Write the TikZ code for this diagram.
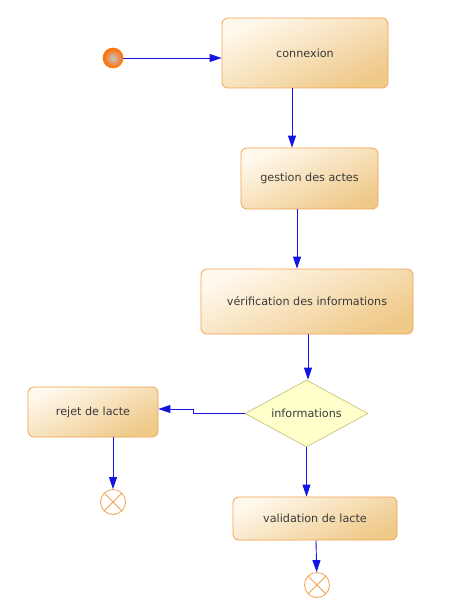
\documentclass[tikz,border=0pt]{standalone}
\usepackage{fontspec}
\setmainfont{DejaVu Sans}
\usepackage{xcolor}
\usetikzlibrary{arrows.meta,positioning,calc,shapes.geometric}

\definecolor{boxline}{HTML}{F2A24E}
\definecolor{boxlight}{HTML}{FFF8EC}
\definecolor{boxdark}{HTML}{EFC988}
\definecolor{decline}{HTML}{C9C27A}
\definecolor{decfill}{HTML}{FFFFCC}
\definecolor{flow}{HTML}{1414E6}
\definecolor{txt}{HTML}{3A3A3A}

\tikzset{
  activity/.style={draw=boxline, line width=0.8pt, rounded corners=6pt,
    top color=boxlight, bottom color=boxdark, shading angle=25,
    font=\fontsize{11.2}{13}\selectfont, text=txt},
  decision/.style={diamond, draw=decline, line width=0.7pt, fill=decfill,
    aspect=1.84, inner sep=0pt, minimum width=123pt, minimum height=67pt,
    font=\fontsize{11.2}{13}\selectfont, text=txt},
  flowarrow/.style={draw=flow, line width=0.9pt,
    -{Triangle[length=12pt,width=8pt]}},
  finalnode/.style={circle, draw=boxline, line width=0.8pt, fill=white,
    minimum size=25pt, inner sep=0pt,
    path picture={\draw[boxline, line width=0.8pt]
      (path picture bounding box.north west) -- (path picture bounding box.south east)
      (path picture bounding box.north east) -- (path picture bounding box.south west);}}
}

\begin{document}
\begin{tikzpicture}[x=1pt, y=-1pt]
  \useasboundingbox (0,0) rectangle (472,612);

  % initial state
  \node[circle, minimum size=20pt, inner sep=0pt, inner color=gray!45,
        outer color=orange!85!red, draw=orange!90!red, line width=0.6pt]
        (start) at (113,58) {};

  % activities
  \node[activity, minimum width=166pt, minimum height=70pt] (connexion) at (305,53) {connexion};
  \node[activity, minimum width=137pt, minimum height=61pt] (gestion) at (309.5,178.5) {gestion des actes};
  \node[activity, minimum width=212pt, minimum height=65pt] (verif) at (307,301.5) {vérification des informations};
  \node[decision] (infos) at (306.5,413.5) {informations};
  \node[activity, minimum width=130pt, minimum height=50pt] (rejet) at (93,412) {rejet de lacte};
  \node[activity, minimum width=164pt, minimum height=43pt] (validation) at (315,518.5) {validation de lacte};

  % final states
  \node[finalnode] (finA) at (113,502) {};
  \node[finalnode] (finB) at (317,585) {};

  % transitions
  \draw[flowarrow] (start.east) -- (start.east -| connexion.west);
  \draw[flowarrow] ([xshift=-13pt]connexion.south) -- ([xshift=-13pt]connexion.south |- gestion.north);
  \draw[flowarrow] ([xshift=-12.5pt]gestion.south) -- ([xshift=-12.5pt]gestion.south |- verif.north);
  \draw[flowarrow] ([xshift=1pt]verif.south) -- ([xshift=1pt]verif.south |- infos.north);
  \draw[flowarrow] (infos.west) -- ++(-51,0) |- ([yshift=3pt]rejet.east);
  \draw[flowarrow] (infos.south) -- (infos.south |- validation.north);
  \draw[flowarrow] ([xshift=20pt]rejet.south) -- (finA);
  \draw[flowarrow] ([xshift=1pt]validation.south) -- (finB);
\end{tikzpicture}
\end{document}
